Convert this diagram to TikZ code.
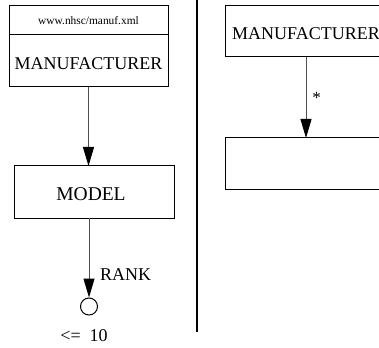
\documentclass[tikz,border=0pt]{standalone}
\usepackage{fontspec}
\setmainfont{Liberation Serif}
\usetikzlibrary{arrows.meta}
\definecolor{linegray}{RGB}{80,80,80}
\tikzset{
  box/.style={draw=black, line width=1pt, rectangle, inner sep=0pt, outer sep=0pt,
    font=\fontsize{18}{20}\selectfont, text depth=0pt},
  conn/.style={draw=linegray, line width=1pt,
    -{Triangle[length=19pt, width=11pt, fill=black, color=black]}},
  lbl/.style={inner sep=0pt, outer sep=0pt, font=\fontsize{18}{20}\selectfont},
}
\begin{document}
\begin{tikzpicture}[x=1pt, y=-1pt]
  \useasboundingbox (0,0) rectangle (379,347);
  \clip (0,0) rectangle (379,347);
  % left column
  \node[box, minimum width=159pt, minimum height=29pt, text height=9pt,
        font=\fontsize{11.4}{13}\selectfont] (url) at (88.5,20.5) {www.nhsc/manuf.xml};
  \node[box, minimum width=159pt, minimum height=52pt, text height=18pt] (mfrL) at (88.5,61) {MANUFACTURER};
  \node[box, minimum width=160pt, minimum height=52pt, text height=16pt,
        font=\fontsize{19.5}{21}\selectfont] (model) at (94,192) {\hspace{-6pt}MODEL};
  \node[draw=black, line width=1pt, circle, minimum size=17pt, inner sep=0pt] (end) at (89,306.5) {};
  \node[lbl, anchor=base west] (rank) at (100,280) {RANK};
  \node[lbl, anchor=base] (limit) at (84,341.5) {<=\ \ 10};
  \draw[conn] (mfrL.south) -- (mfrL.south |- model.north);
  \draw[conn] (end.north |- model.south) -- (end.north);
  % separator
  \coordinate (sepTop) at (197,0);
  \coordinate (sepBot) at (197,332);
  \draw[black, line width=1.3pt] (sepTop) -- (sepBot);
  % right column
  \node[box, minimum width=162pt, minimum height=51pt, text height=16pt] (mfrR) at (306,31.5) {MANUFACTURER};
  \node[box, minimum width=162pt, minimum height=51pt] (blank) at (306,163.5) {};
  \draw[conn] (mfrR.south) -- (blank.north);
  \node[lbl, anchor=base, font=\fontsize{17}{19}\selectfont] (star) at (316.5,103.5) {*};
\end{tikzpicture}
\end{document}
